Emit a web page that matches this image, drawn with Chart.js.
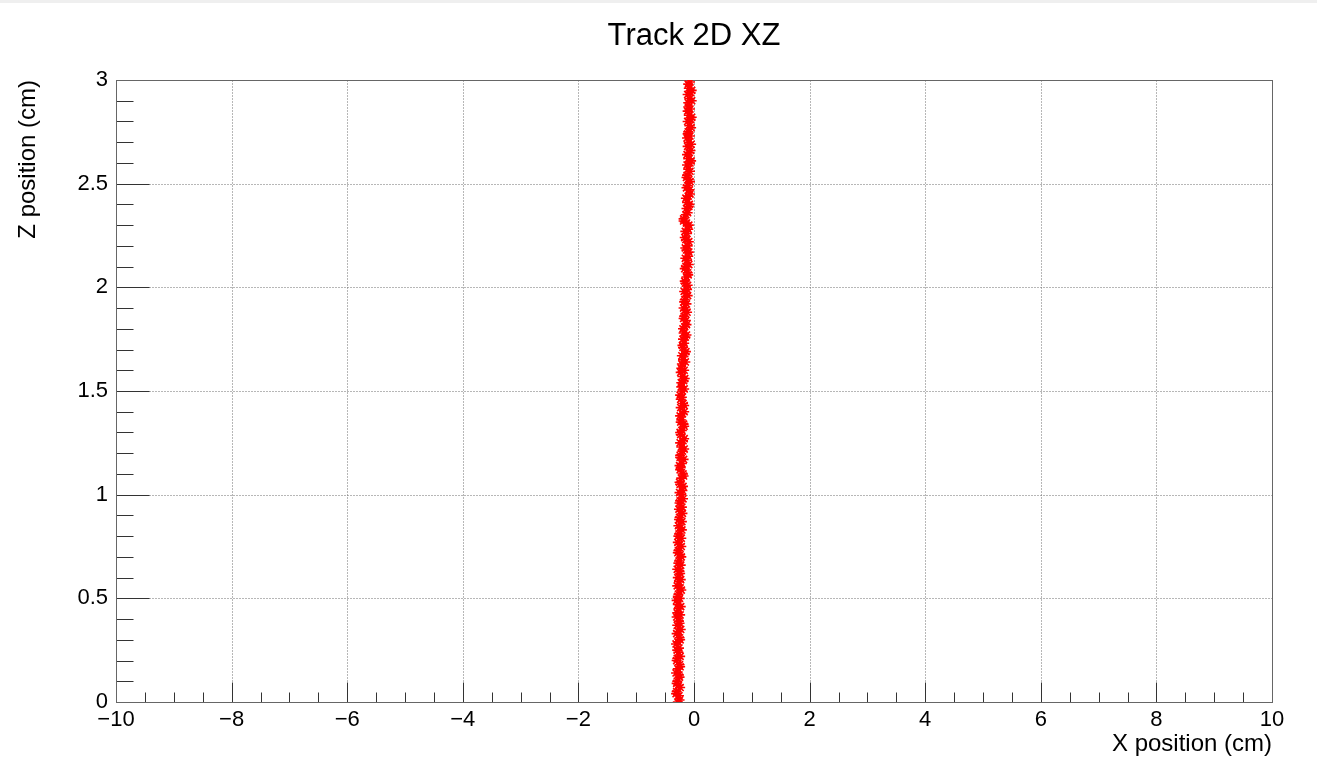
<!DOCTYPE html>
<html>
<head>
<meta charset="utf-8">
<title>Track 2D XZ</title>
<script src="https://cdn.jsdelivr.net/npm/chart.js@4.4.1/dist/chart.umd.min.js"></script>
<style>
html, body { margin: 0; padding: 0; background: #fff; }
canvas { display: block; }
</style>
</head>
<body>
<canvas id="track-chart" width="1317" height="775"></canvas>
<script>
var zPosition = [
  0.00, 0.03, 0.05, 0.08, 0.10, 0.13, 0.16, 0.18, 0.21, 0.24, 0.26, 0.29, 0.31, 0.34, 0.37, 0.39,
  0.42, 0.45, 0.47, 0.50, 0.52, 0.55, 0.58, 0.60, 0.63, 0.66, 0.68, 0.71, 0.73, 0.76, 0.79, 0.81,
  0.84, 0.87, 0.89, 0.92, 0.94, 0.97, 1.00, 1.02, 1.05, 1.08, 1.10, 1.13, 1.15, 1.18, 1.21, 1.23,
  1.26, 1.29, 1.31, 1.34, 1.36, 1.39, 1.42, 1.44, 1.47, 1.50, 1.52, 1.55, 1.57, 1.60, 1.63, 1.65,
  1.68, 1.71, 1.73, 1.76, 1.78, 1.81, 1.84, 1.86, 1.89, 1.92, 1.94, 1.97, 1.99, 2.02, 2.05, 2.07,
  2.10, 2.13, 2.15, 2.18, 2.20, 2.23, 2.26, 2.28, 2.31, 2.33, 2.36, 2.39, 2.41, 2.44, 2.47, 2.49,
  2.52, 2.54, 2.57, 2.60, 2.62, 2.65, 2.68, 2.70, 2.73, 2.75, 2.78, 2.81, 2.83, 2.86, 2.89, 2.91,
  2.94, 2.96, 2.99
];
var xPosition = [
  -0.28, -0.26, -0.30, -0.27, -0.29, -0.26, -0.28, -0.25, -0.29, -0.27, -0.26, -0.28, -0.25, -0.27, -0.29, -0.26,
  -0.24, -0.27, -0.28, -0.25, -0.27, -0.24, -0.26, -0.28, -0.25, -0.23, -0.26, -0.24, -0.27, -0.25, -0.22, -0.26,
  -0.24, -0.21, -0.25, -0.23, -0.21, -0.24, -0.22, -0.20, -0.24, -0.22, -0.19, -0.23, -0.21, -0.24, -0.20, -0.22,
  -0.19, -0.23, -0.21, -0.18, -0.22, -0.20, -0.23, -0.19, -0.21, -0.20, -0.22, -0.18, -0.20, -0.17, -0.21, -0.19,
  -0.16, -0.19, -0.17, -0.15, -0.18, -0.16, -0.14, -0.17, -0.15, -0.13, -0.16, -0.14, -0.12, -0.15, -0.13, -0.11,
  -0.14, -0.12, -0.10, -0.13, -0.11, -0.14, -0.12, -0.10, -0.13, -0.18, -0.11, -0.09, -0.12, -0.10, -0.08, -0.11,
  -0.09, -0.12, -0.10, -0.07, -0.10, -0.08, -0.11, -0.09, -0.07, -0.10, -0.08, -0.06, -0.09, -0.07, -0.10, -0.08,
  -0.06, -0.09, -0.07
];
var zPositionB = [
  0.01, 0.04, 0.07, 0.09, 0.12, 0.14, 0.17, 0.20,
  0.22, 0.25, 0.28, 0.30, 0.33, 0.35, 0.38, 0.41,
  0.43, 0.46, 0.49, 0.51, 0.54, 0.56, 0.59, 0.62,
  0.64, 0.67, 0.70, 0.72, 0.75, 0.77, 0.80, 0.83,
  0.85, 0.88, 0.91, 0.93, 0.96, 0.98, 1.01, 1.04,
  1.06, 1.09, 1.12, 1.14, 1.17, 1.19, 1.22, 1.25,
  1.27, 1.30, 1.33, 1.35, 1.38, 1.40, 1.43, 1.46,
  1.48, 1.51, 1.54, 1.56, 1.59, 1.61, 1.64, 1.67,
  1.69, 1.72, 1.75, 1.77, 1.80, 1.82, 1.85, 1.88,
  1.90, 1.93, 1.96, 1.98, 2.01, 2.03, 2.06, 2.09,
  2.11, 2.14, 2.17, 2.19, 2.22, 2.24, 2.27, 2.30,
  2.32, 2.35, 2.38, 2.40, 2.43, 2.45, 2.48, 2.51,
  2.53, 2.56, 2.59, 2.61, 2.64, 2.66, 2.69, 2.72,
  2.74, 2.77, 2.80, 2.82, 2.85, 2.87, 2.90, 2.93,
  2.95, 2.98
];
var xPositionB = [
  -0.25, -0.31, -0.24, -0.30, -0.25, -0.31, -0.24, -0.30,
  -0.24, -0.29, -0.31, -0.24, -0.30, -0.23, -0.25, -0.30,
  -0.29, -0.23, -0.30, -0.28, -0.22, -0.29, -0.23, -0.24,
  -0.29, -0.27, -0.22, -0.28, -0.22, -0.28, -0.27, -0.21,
  -0.27, -0.26, -0.20, -0.26, -0.25, -0.19, -0.25, -0.19,
  -0.25, -0.18, -0.24, -0.25, -0.18, -0.24, -0.17, -0.24,
  -0.17, -0.24, -0.17, -0.23, -0.24, -0.17, -0.17, -0.23,
  -0.24, -0.17, -0.22, -0.16, -0.23, -0.22, -0.15, -0.21,
  -0.14, -0.20, -0.19, -0.13, -0.19, -0.13, -0.18, -0.12,
  -0.18, -0.17, -0.11, -0.17, -0.11, -0.16, -0.10, -0.16,
  -0.09, -0.15, -0.09, -0.15, -0.09, -0.16, -0.15, -0.09,
  -0.18, -0.14, -0.13, -0.08, -0.14, -0.07, -0.13, -0.07,
  -0.13, -0.07, -0.12, -0.05, -0.12, -0.06, -0.05, -0.12,
  -0.11, -0.05, -0.11, -0.04, -0.11, -0.10, -0.04, -0.11,
  -0.04, -0.10
];

var xTickValues = [-10, -8, -6, -4, -2, 0, 2, 4, 6, 8, 10];
var zTickValues = [0, 0.5, 1, 1.5, 2, 2.5, 3];

var fontFamily = '"Liberation Sans", Arial, Helvetica, sans-serif';

var points = [];
for (var i = 0; i < zPosition.length; i++) {
  points.push({ x: xPosition[i], y: zPosition[i] });
}
for (var i = 0; i < zPositionB.length; i++) {
  points.push({ x: xPositionB[i], y: zPositionB[i] });
}

// ROOT-like frame: dotted grid, inward ticks, title over the pad
var rootFrame = {
  id: 'rootFrame',
  beforeDraw: function (chart) {
    var ctx = chart.ctx;
    ctx.save();
    ctx.fillStyle = '#ffffff';
    ctx.fillRect(0, 0, chart.width, chart.height);
    ctx.fillStyle = '#efefef';
    ctx.fillRect(0, 0, chart.width, 3);
    ctx.restore();
  },
  beforeDatasetsDraw: function (chart) {
    var ctx = chart.ctx, a = chart.chartArea;
    var xs = chart.scales.x, ys = chart.scales.y;
    var left = Math.round(a.left) + 0.5, right = Math.round(a.right) + 0.5;
    var top = Math.round(a.top) + 0.5, bottom = Math.round(a.bottom) + 0.5;
    ctx.save();

    // grid
    ctx.strokeStyle = '#6e6e6e';
    ctx.lineWidth = 1;
    ctx.setLineDash([1, 2]);
    ctx.beginPath();
    xTickValues.forEach(function (v) {
      if (v <= xs.min || v >= xs.max) return;
      var px = Math.round(xs.getPixelForValue(v)) + 0.5;
      ctx.moveTo(px, top); ctx.lineTo(px, bottom);
    });
    zTickValues.forEach(function (v) {
      if (v <= ys.min || v >= ys.max) return;
      var py = Math.round(ys.getPixelForValue(v)) + 0.5;
      ctx.moveTo(left, py); ctx.lineTo(right, py);
    });
    ctx.stroke();
    ctx.setLineDash([]);

    // ticks
    ctx.strokeStyle = '#333';
    ctx.beginPath();
    for (var k = 0; k <= 40; k++) {
      var xv = xs.min + k * 0.5;
      var px = Math.round(xs.getPixelForValue(xv)) + 0.5;
      var len = (k % 4 === 0) ? 20 : 10;
      ctx.moveTo(px, bottom); ctx.lineTo(px, bottom - len);
    }
    for (var j = 0; j <= 30; j++) {
      var zv = ys.min + j * 0.1;
      var py = Math.round(ys.getPixelForValue(zv)) + 0.5;
      var tl = (j % 5 === 0) ? 33 : 17;
      ctx.moveTo(left, py); ctx.lineTo(left + tl, py);
    }
    ctx.stroke();

    // frame
    ctx.strokeStyle = '#666';
    ctx.strokeRect(left, top, right - left, bottom - top);
    ctx.restore();
  },
  afterDraw: function (chart) {
    var ctx = chart.ctx, a = chart.chartArea;
    ctx.save();
    ctx.fillStyle = '#000';
    ctx.font = '31px ' + fontFamily;
    ctx.textAlign = 'center';
    ctx.textBaseline = 'middle';
    ctx.fillText('Track 2D XZ', (a.left + a.right) / 2, 36);
    ctx.restore();
  }
};

var ctx = document.getElementById('track-chart').getContext('2d');
window.trackChart = new Chart(ctx, {
  type: 'scatter',
  data: {
    datasets: [{
      label: 'Track 2D XZ',
      data: points,
      showLine: false,
      pointStyle: 'star',
      pointRadius: 5,
      pointBorderWidth: 1.6,
      borderColor: '#ff0000',
      backgroundColor: '#ff0000'
    }]
  },
  options: {
    responsive: false,
    animation: false,
    devicePixelRatio: 1,
    events: [],
    layout: { padding: { top: 80, right: 45, left: 0, bottom: 0 } },
    plugins: {
      legend: { display: false },
      title: { display: false },
      tooltip: { enabled: false }
    },
    scales: {
      x: {
        type: 'linear',
        min: -10,
        max: 10,
        grid: { display: false, drawTicks: false },
        border: { display: false },
        afterBuildTicks: function (scale) {
          scale.ticks = xTickValues.map(function (v) { return { value: v }; });
        },
        ticks: {
          padding: 5,
          color: '#000',
          autoSkip: false,
          maxRotation: 0,
          font: { family: fontFamily, size: 22 },
          callback: function (v) { return String(v).replace('-', '\u2212'); }
        },
        title: {
          display: true,
          text: 'X position (cm)',
          align: 'end',
          color: '#000',
          font: { family: fontFamily, size: 24 },
          padding: { top: 0, bottom: 16 }
        },
        afterFit: function (scale) { scale.height = 73; }
      },
      y: {
        type: 'linear',
        min: 0,
        max: 3,
        grid: { display: false, drawTicks: false },
        border: { display: false },
        afterBuildTicks: function (scale) {
          scale.ticks = zTickValues.map(function (v) { return { value: v }; });
        },
        ticks: {
          padding: 8,
          color: '#000',
          autoSkip: false,
          font: { family: fontFamily, size: 22 },
          callback: function (v) { return String(v); }
        },
        title: {
          display: true,
          text: 'Z position (cm)',
          align: 'end',
          color: '#000',
          font: { family: fontFamily, size: 24 },
          padding: { top: 14, bottom: 0 }
        },
        afterFit: function (scale) { scale.width = 116; }
      }
    }
  },
  plugins: [rootFrame]
});
</script>
</body>
</html>
